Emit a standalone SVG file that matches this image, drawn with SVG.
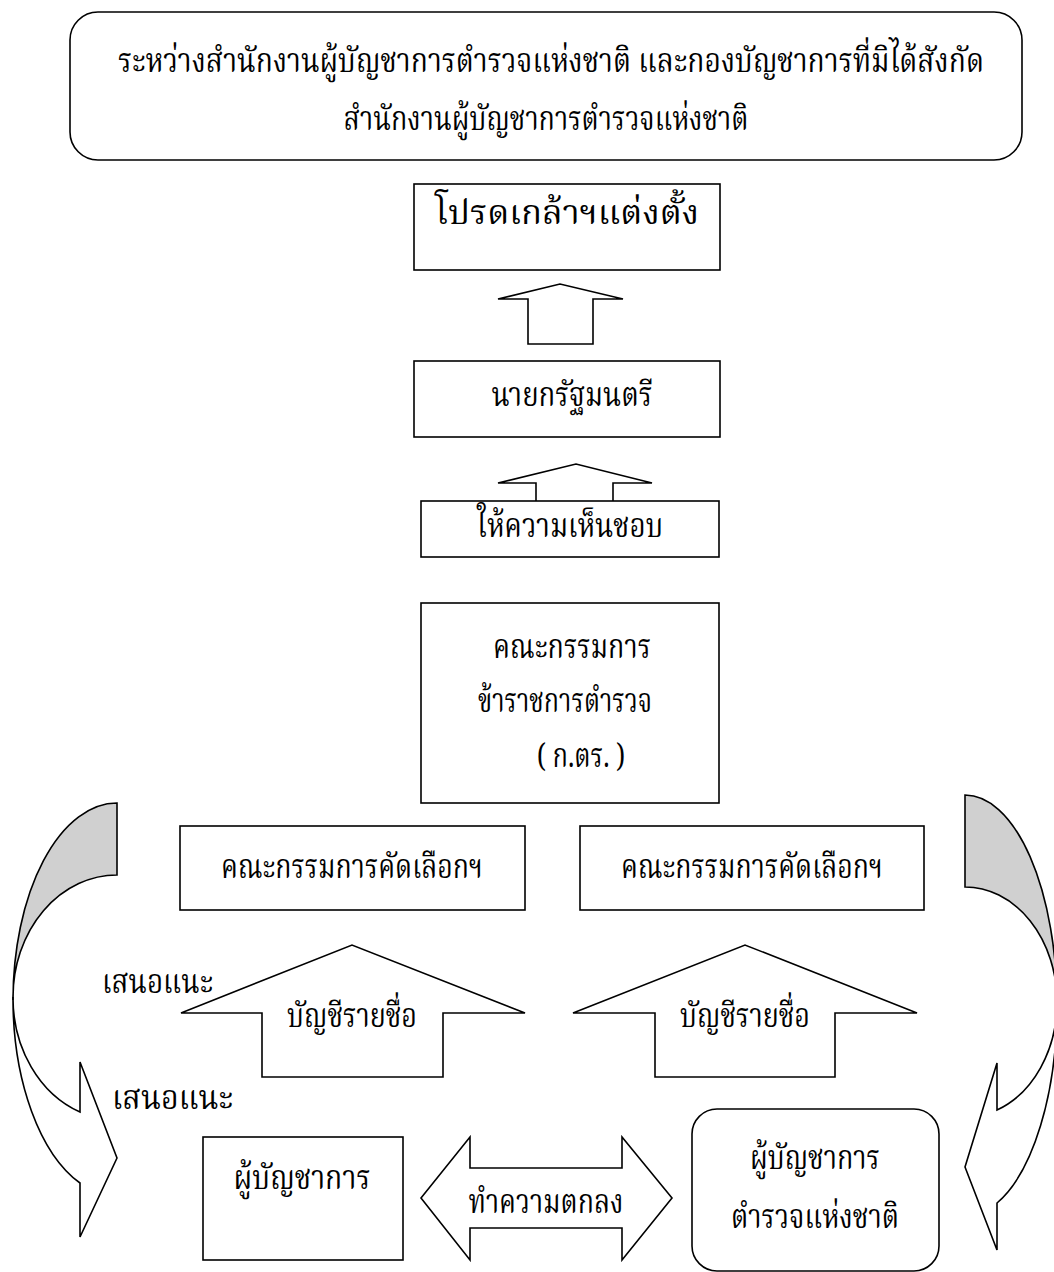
<svg xmlns="http://www.w3.org/2000/svg" width="1054" height="1272" viewBox="0 0 1054 1272">
<style>
.b{fill:#fff;stroke:#000;stroke-width:1.6}
.a{fill:#fff;stroke:#000;stroke-width:1.6;stroke-linejoin:miter}
.g{fill:#d0d0d0;stroke:#000;stroke-width:1.6}
text{font-family:"Norasi","Noto Serif Thai","Noto Sans Thai","Liberation Serif",serif;font-size:33px;fill:#000;text-anchor:middle}
.l{text-anchor:start}
</style>
<rect width="1054" height="1272" fill="#fff"/>
<g id="top">
<rect class="b" x="70" y="12" width="952" height="148" rx="28"/>
<text x="551" y="72" textLength="866" lengthAdjust="spacingAndGlyphs">ระหว่างสำนักงานผู้บัญชาการตำรวจแห่งชาติ และกองบัญชาการที่มิได้สังกัด</text>
<text x="546" y="130" textLength="405" lengthAdjust="spacingAndGlyphs">สำนักงานผู้บัญชาการตำรวจแห่งชาติ</text>
</g>
<g id="connectors">
<path class="a" d="M528,344 L528,299 L498,299 L560,284 L623,299 L593,299 L593,344 Z"/>
<path class="a" d="M536,501 L536,483 L498,483 L576,464 L652,483 L613,483 L613,501"/>
<path class="a" d="M262,1077 L262,1013 L181,1013 L352,945 L525,1013 L443,1013 L443,1077 Z"/>
<path class="a" d="M655,1077 L655,1013 L573,1013 L745,945 L917,1013 L835,1013 L835,1077 Z"/>
<path class="a" d="M421,1198 L470,1137 L470,1168 L622,1168 L622,1137 L672,1198 L622,1260 L622,1228 L470,1228 L470,1260 Z"/>
<path class="g" d="M117,803 A104,197 0 0 0 13,1000 L13,997 A104,122 0 0 1 117,875 Z"/>
<path class="a" d="M13,1000 A104,197 0 0 0 80,1183 L80,1237 L117,1158 L80,1062 L80,1112 A104,122 0 0 1 13,997 Z"/>
<path class="g" d="M965,795 A92,210.6 0 0 1 1057,1005.6 L1057,1002 A92,115 0 0 0 965,887 Z"/>
<path class="a" d="M1057,1005.6 A92,210.6 0 0 1 997,1203 L997,1250 L965,1167 L997,1063 L997,1110 A92,115 0 0 0 1057,1002 Z"/>
<text x="352" y="1027" textLength="130" lengthAdjust="spacingAndGlyphs">บัญชีรายชื่อ</text>
<text x="745" y="1027" textLength="130" lengthAdjust="spacingAndGlyphs">บัญชีรายชื่อ</text>
<text x="546" y="1213" textLength="155" lengthAdjust="spacingAndGlyphs">ทำความตกลง</text>
<text class="l" x="102" y="993" textLength="111" lengthAdjust="spacingAndGlyphs">เสนอแนะ</text>
<text class="l" x="112" y="1109" textLength="121" lengthAdjust="spacingAndGlyphs">เสนอแนะ</text>
</g>
<g id="n-appoint">
<rect class="b" x="414" y="184" width="306" height="86"/>
<text x="567" y="224" textLength="264" lengthAdjust="spacingAndGlyphs">โปรดเกล้าฯแต่งตั้ง</text>
</g>
<g id="n-pm">
<rect class="b" x="414" y="361" width="306" height="76"/>
<text x="572" y="406" textLength="161" lengthAdjust="spacingAndGlyphs">นายกรัฐมนตรี</text>
</g>
<g id="n-approve">
<rect class="b" x="421" y="501" width="298" height="56"/>
<text x="570" y="537" textLength="186" lengthAdjust="spacingAndGlyphs">ให้ความเห็นชอบ</text>
</g>
<g id="n-kt">
<rect class="b" x="421" y="603" width="298" height="200"/>
<text x="572" y="658" textLength="158" lengthAdjust="spacingAndGlyphs">คณะกรรมการ</text>
<text x="565" y="712" textLength="174" lengthAdjust="spacingAndGlyphs">ข้าราชการตำรวจ</text>
<text x="581" y="767" textLength="88" lengthAdjust="spacingAndGlyphs">( ก.ตร. )</text>
</g>
<g id="n-sel-left">
<rect class="b" x="180" y="826" width="345" height="84"/>
<text x="352" y="878" textLength="262" lengthAdjust="spacingAndGlyphs">คณะกรรมการคัดเลือกฯ</text>
</g>
<g id="n-sel-right">
<rect class="b" x="580" y="826" width="344" height="84"/>
<text x="752" y="878" textLength="262" lengthAdjust="spacingAndGlyphs">คณะกรรมการคัดเลือกฯ</text>
</g>
<g id="n-commander">
<rect class="b" x="203" y="1137" width="200" height="123"/>
<text x="302" y="1189" textLength="137" lengthAdjust="spacingAndGlyphs">ผู้บัญชาการ</text>
</g>
<g id="n-police-chief">
<rect class="b" x="692" y="1109" width="247" height="162" rx="25"/>
<text x="815" y="1169" textLength="130" lengthAdjust="spacingAndGlyphs">ผู้บัญชาการ</text>
<text x="815" y="1228" textLength="168" lengthAdjust="spacingAndGlyphs">ตำรวจแห่งชาติ</text>
</g>
</svg>
